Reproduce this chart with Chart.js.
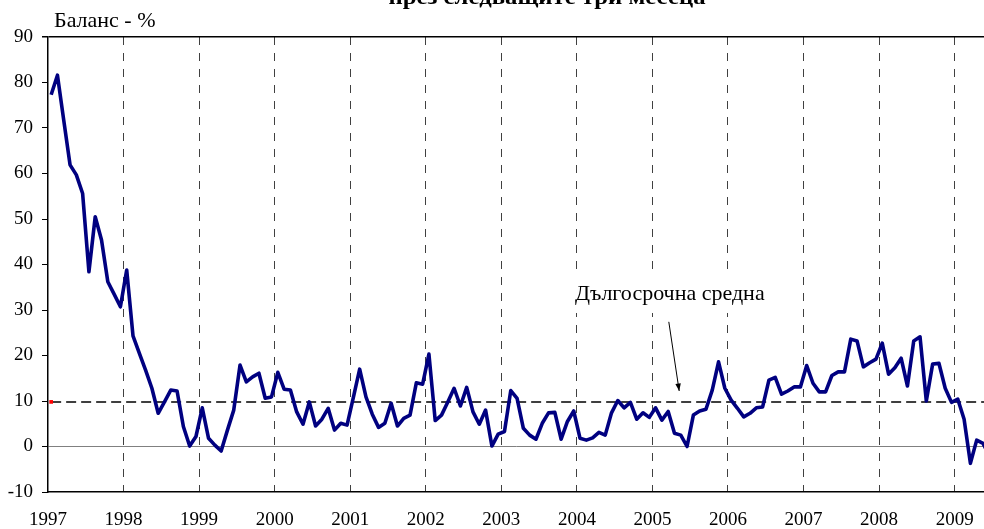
<!DOCTYPE html>
<html>
<head>
<meta charset="utf-8">
<script src="https://cdn.jsdelivr.net/npm/chart.js@4/dist/chart.umd.min.js"></script>
<style>
  html, body { margin: 0; padding: 0; background: #fff; }
  #wrap { width: 984px; height: 529px; }
</style>
</head>
<body>
<div id="wrap"><canvas id="balance"></canvas></div>
<script>
// tick labels (one per January)
var yearLabels = ['1997', '1998', '1999', '2000', '2001', '2002', '2003',
                  '2004', '2005', '2006', '2007', '2008', '2009'];

// monthly balance, Jan 1997 onwards
var balance = [
  77.3, 81.6, 71.7, 61.9, 59.7, 55.6, 38.4, 50.5, 45.4, 36.2, 33.5, 30.7,
  38.8, 24.3, 20.5, 16.8, 12.8, 7.3, 9.8, 12.4, 12.2, 4.4, 0.1, 2.2,
  8.5, 1.8, 0.3, -1.0, 3.6, 8.0, 17.9, 14.2, 15.3, 16.1, 10.6, 10.9,
  16.3, 12.6, 12.4, 7.6, 4.9, 9.8, 4.5, 6.0, 8.4, 3.6, 5.1, 4.7,
  10.8, 17.0, 10.9, 7.1, 4.2, 5.1, 9.5, 4.5, 6.2, 6.9, 14.0, 13.7,
  20.3, 5.7, 6.9, 9.8, 12.8, 8.9, 13.0, 7.6, 4.9, 8.0, 0.1, 2.7,
  3.3, 12.3, 10.6, 4.0, 2.5, 1.6, 5.1, 7.4, 7.5, 1.6, 5.5, 7.8,
  1.8, 1.4, 1.9, 3.1, 2.5, 7.4, 10.1, 8.5, 9.7, 6.0, 7.4, 6.4,
  8.5, 5.8, 7.7, 2.9, 2.5, 0.0, 6.9, 7.8, 8.2, 12.4, 18.6, 12.8,
  10.2, 8.4, 6.5, 7.3, 8.5, 8.7, 14.6, 15.2, 11.5, 12.2, 13.1, 13.1,
  17.8, 13.9, 12.0, 12.0, 15.6, 16.4, 16.4, 23.6, 23.2, 17.5, 18.4, 19.2,
  22.7, 15.9, 17.3, 19.4, 13.3, 23.2, 24.1, 10.0, 18.1, 18.3, 12.8, 9.7,
  10.4, 6.0, -3.7, 1.4, 0.7, -2.0
];

// long-term average
var longTermAvg = 9.8;

var titleText = 'през следващите три месеца';
var axisTitle = 'Баланс - %';
var noteText = 'Дългосрочна средна';

var serif = '"Liberation Serif", "Times New Roman", serif';

var balancePoints = balance.map(function (v, i) { return { x: i + 0.5, y: v }; });
var avgPoints = [
  { x: 0.5, y: longTermAvg },
  { x: balance.length - 0.5, y: longTermAvg }
];

var textPlugin = {
  id: 'texts',
  afterDraw: function (chart) {
    var ctx = chart.ctx;
    var xs = chart.scales.x, ys = chart.scales.y;
    ctx.save();
    ctx.fillStyle = '#000';
    ctx.textBaseline = 'alphabetic';

    // title, mostly cut off at the top (stretched like the source image)
    ctx.font = 'bold 21px ' + serif;
    ctx.textAlign = 'center';
    var w = ctx.measureText(titleText).width;
    ctx.save();
    ctx.translate(547, 4);
    ctx.scale(317 / w, 1);
    ctx.fillText(titleText, 0, 0);
    ctx.restore();

    // y axis caption
    ctx.font = '22px ' + serif;
    ctx.textAlign = 'left';
    ctx.fillText(axisTitle, 54, 27);

    // note in a white box, and arrow pointing to the average line
    var nx = xs.getPixelForValue(83.7), ny = ys.getPixelForValue(32.2);
    var nw = ctx.measureText(noteText).width;
    ctx.fillStyle = '#fff';
    ctx.fillRect(nx - 6, ny - 26, nw + 12, 39);
    ctx.fillStyle = '#000';
    ctx.fillText(noteText, nx, ny);

    var x1 = xs.getPixelForValue(98.6), y1 = ys.getPixelForValue(27.4);
    var x2 = xs.getPixelForValue(100.25), y2 = ys.getPixelForValue(12.2);
    ctx.strokeStyle = '#000';
    ctx.lineWidth = 1;
    ctx.beginPath();
    ctx.moveTo(x1, y1);
    ctx.lineTo(x2, y2);
    ctx.stroke();
    var a = Math.atan2(y2 - y1, x2 - x1);
    ctx.beginPath();
    ctx.moveTo(x2, y2);
    ctx.lineTo(x2 - 8 * Math.cos(a - 0.35), y2 - 8 * Math.sin(a - 0.35));
    ctx.lineTo(x2 - 8 * Math.cos(a + 0.35), y2 - 8 * Math.sin(a + 0.35));
    ctx.closePath();
    ctx.fill();
    ctx.restore();
  }
};

var ctx = document.getElementById('balance').getContext('2d');
var chart = new Chart(ctx, {
  type: 'line',
  data: {
    datasets: [{
      label: 'Баланс',
      data: balancePoints,
      borderColor: '#000080',
      borderWidth: 3.6,
      pointRadius: 0,
      pointHoverRadius: 0,
      tension: 0,
      borderJoinStyle: 'round',
      order: 1
    }, {
      label: noteText,
      data: avgPoints,
      borderColor: '#000',
      borderWidth: 1.5,
      borderDash: [10, 5],
      pointStyle: 'rect',
      pointRadius: [2.6, 0],
      pointHoverRadius: 0,
      pointBackgroundColor: '#ff0000',
      pointBorderWidth: 0,
      order: 2
    }]
  },
  options: {
    animation: false,
    responsive: true,
    maintainAspectRatio: false,
    layout: { autoPadding: false, padding: { top: 37, left: 0, right: 0, bottom: 0 } },
    plugins: {
      legend: { display: false },
      tooltip: { enabled: false }
    },
    scales: {
      x: {
        type: 'linear',
        min: 0,
        max: 148.66,
        afterBuildTicks: function (scale) {
          scale.ticks = yearLabels.map(function (_, i) { return { value: i * 12 }; });
        },
        afterFit: function (scale) {
          scale.height = 37;
          scale.paddingLeft = 0;
          scale.paddingRight = 0;
        },
        ticks: {
          autoSkip: false,
          maxRotation: 0,
          padding: 17,
          color: '#000',
          font: { family: serif, size: 19 },
          callback: function (v) { return yearLabels[Math.round(v / 12)]; }
        },
        grid: {
          drawTicks: false,
          color: function (c) {
            return c.tick && c.tick.value === 0 ? 'rgba(0,0,0,0)' : '#404040';
          },
          lineWidth: 1
        },
        border: { display: true, color: '#000', width: 1.5, dash: [8, 8] }
      },
      y: {
        min: -10,
        max: 90,
        afterFit: function (scale) { scale.width = 48; },
        ticks: {
          stepSize: 10,
          padding: 9,
          color: '#000',
          font: { family: serif, size: 19 }
        },
        grid: {
          tickLength: 6,
          tickColor: '#000',
          color: function (c) {
            if (!c.tick) return 'rgba(0,0,0,0)';
            if (c.tick.value === 0) return '#808080';
            if (c.tick.value === 90) return '#000';
            return 'rgba(0,0,0,0)';
          },
          lineWidth: function (c) {
            return c.tick && c.tick.value === 90 ? 1.5 : 1;
          }
        },
        border: { display: true, color: '#000', width: 1.5 }
      }
    }
  },
  plugins: [textPlugin]
});
</script>
</body>
</html>
